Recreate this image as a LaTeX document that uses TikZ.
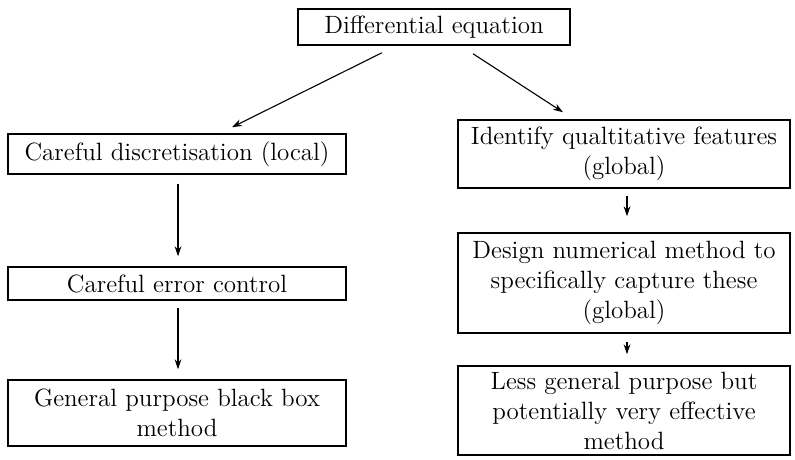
\documentclass[tikz,border=0pt]{standalone}
\usetikzlibrary{arrows.meta}
\begin{document}
\begin{tikzpicture}[x=0.5pt,y=-0.5pt,
  box/.style={draw=black, line width=0.75pt, inner sep=0pt, align=center,
    font=\fontsize{12.5}{15}\selectfont},
  arr/.style={line width=0.55pt, -{Stealth[length=5pt,width=3.4pt]}}]
\useasboundingbox (0,0) rectangle (795,459);
\node[box, minimum width=136pt, minimum height=18pt] (top) at (434,27) {Differential equation};
\node[box, minimum width=169pt, minimum height=20pt] (l1) at (177,154) {Careful discretisation (local)};
\node[box, minimum width=169pt, minimum height=16.5pt] (l2) at (177,283.5) {Careful error control};
\node[box, minimum width=169pt, minimum height=33pt] (l3) at (177,413) {General purpose black box\\method};
\node[box, minimum width=166pt, minimum height=34pt] (r1) at (624,154) {Identify qualtitative features\\(global)};
\node[box, minimum width=166pt, minimum height=50pt] (r2) at (624,283) {Design numerical method to\\specifically capture these\\(global)};
\node[box, minimum width=166pt, minimum height=44.5pt] (r3) at (624,410.5) {Less general purpose but\\potentially very effective\\method};
\draw[arr] ([xshift=-26pt,yshift=-3.5pt]top.south) -- ([xshift=27.5pt,yshift=3pt]l1.north);
\draw[arr] ([xshift=19.5pt,yshift=-4pt]top.south) -- ([xshift=-30.5pt,yshift=3.5pt]r1.north);
\draw[arr] ([xshift=0.5pt,yshift=-4.5pt]l1.south) -- ([xshift=0.5pt,yshift=5pt]l2.north);
\draw[arr] ([xshift=0.5pt,yshift=-3.5pt]l2.south) -- ([xshift=0.5pt,yshift=5pt]l3.north);
\draw[arr] ([xshift=1.5pt,yshift=-3.5pt]r1.south) -- ([xshift=1.5pt,yshift=8pt]r2.north);
\draw[arr] ([xshift=1.5pt,yshift=-4pt]r2.south) -- ([xshift=1.5pt,yshift=5.5pt]r3.north);
\end{tikzpicture}
\end{document}
